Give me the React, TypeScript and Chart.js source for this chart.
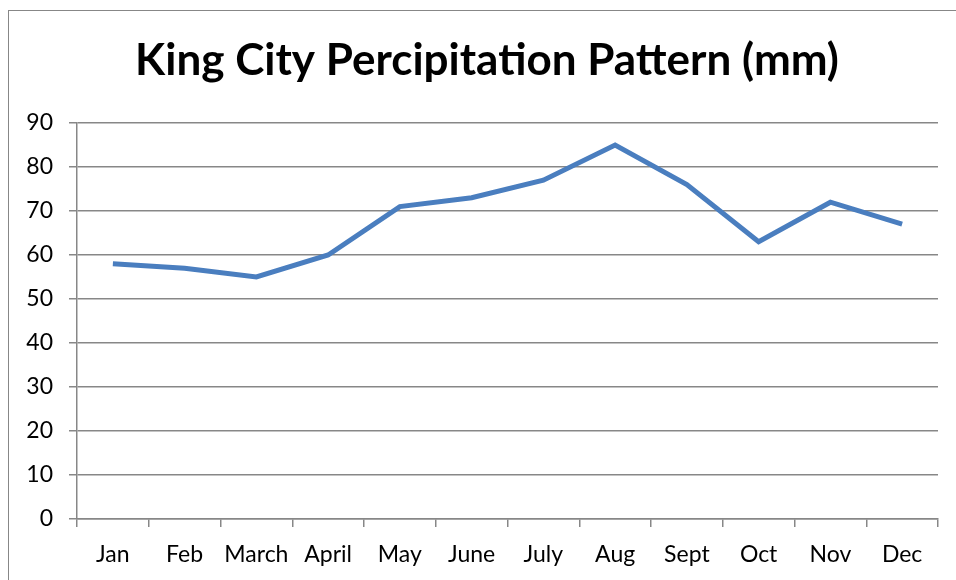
import React, { useEffect, useRef } from "react";
import { Chart, registerables } from "chart.js";

Chart.register(...registerables);

const categories = ["Jan", "Feb", "March", "April", "May", "June", "July", "Aug", "Sept", "Oct", "Nov", "Dec"];
const precipitation = [58, 57, 55, 60, 71, 73, 77, 85, 76, 63, 72, 67];
const yTicks = { min: 0, max: 90, step: 10 };
const titleText = "King City Percipitation Pattern (mm)";

const FONT = "Lato, 'Open Sans', sans-serif";
const GRAY = "#878787";

const titlePlugin = {
  id: "offsetTitle",
  afterDraw(chart: any) {
    const ctx = chart.ctx;
    ctx.save();
    ctx.font = `bold 44px ${FONT}`;
    ctx.fillStyle = "#000";
    ctx.textAlign = "center";
    ctx.textBaseline = "middle";
    ctx.fillText(titleText, 487, 61);
    ctx.restore();
  },
};

export default function App() {
  const ref = useRef<HTMLCanvasElement | null>(null);

  useEffect(() => {
    if (!ref.current) return;
    const chart = new Chart(ref.current, {
      type: "line",
      data: {
        labels: categories,
        datasets: [
          {
            data: precipitation,
            borderColor: "#4A7EBF",
            backgroundColor: "#4A7EBF",
            borderWidth: 5,
            pointRadius: 0,
            tension: 0,
            fill: false,
          },
        ],
      },
      plugins: [titlePlugin],
      options: {
        animation: false,
        responsive: false,
        layout: { padding: { left: 0, right: 18, top: 123, bottom: 0 } },
        plugins: {
          legend: { display: false },
          tooltip: { enabled: false },
          title: { display: false },
        },
        scales: {
          x: {
            offset: true,
            grid: {
              offset: true,
              drawOnChartArea: false,
              drawTicks: true,
              tickLength: 8,
              color: GRAY,
              lineWidth: 1.5,
            },
            border: { display: true, color: GRAY, width: 1.5 },
            ticks: {
              color: "#000",
              font: { family: FONT, size: 23 },
              padding: 14,
              maxRotation: 0,
              autoSkip: false,
            },
            afterFit: (s: any) => {
              s.height = 61;
            },
          },
          y: {
            min: yTicks.min,
            max: yTicks.max,
            ticks: {
              stepSize: yTicks.step,
              color: "#000",
              font: { family: FONT, size: 23 },
              padding: 16,
            },
            grid: {
              color: GRAY,
              lineWidth: 1.5,
              tickLength: 8,
              drawTicks: true,
            },
            border: { display: true, color: GRAY, width: 1.5 },
            afterFit: (s: any) => {
              s.width = 77;
            },
          },
        },
      },
    });
    return () => chart.destroy();
  }, []);

  return (
    <div style={{ position: "absolute", left: 0, top: 0, width: 956, height: 580, background: "#fff", overflow: "hidden" }}>
      <div
        style={{
          position: "absolute",
          left: 8,
          top: 10,
          width: 960,
          height: 580,
          borderTop: `1.5px solid ${GRAY}`,
          borderLeft: `1.5px solid ${GRAY}`,
        }}
      />
      <canvas ref={ref} width={956} height={580} style={{ position: "absolute", left: 0, top: 0 }} />
    </div>
  );
}
